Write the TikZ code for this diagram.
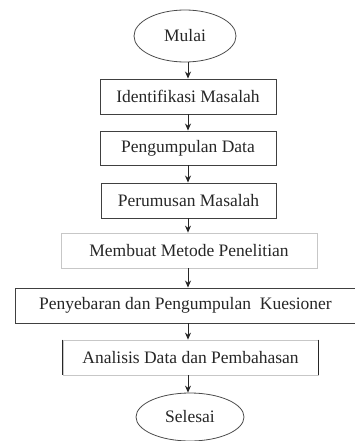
\documentclass[tikz,border=0pt]{standalone}
\usepackage{fontspec}
\setmainfont{Liberation Serif}
\usetikzlibrary{arrows.meta,shapes.geometric}
\begin{document}
\begin{tikzpicture}[x=1pt,y=-1pt,
  txt/.style={font=\fontsize{17.5}{19}\selectfont, text=black!85},
  term/.style={ellipse, draw=black!70, line width=0.8pt, inner sep=0pt, txt},
  procbox/.style={rectangle, draw=black!75, line width=0.9pt, inner sep=0pt, txt},
  lightbox/.style={rectangle, draw=black!22, line width=0.8pt, inner sep=0pt, txt},
  arr/.style={draw=black!85, line width=0.8pt, -{Stealth[length=7pt,width=6pt]}}]
\useasboundingbox (0,0) rectangle (355,441);
\coordinate (ax) at (188,0);
\node[term, minimum width=102pt, minimum height=52pt] (m) at (185,36) {Mulai};
\node[procbox, minimum width=176pt, minimum height=35pt] (b1) at (188,96.5) {Identifikasi Masalah};
\node[procbox, minimum width=176pt, minimum height=34pt] (b2) at (188,148) {Pengumpulan Data};
\node[procbox, minimum width=175pt, minimum height=35pt] (b3) at (188.5,200.5) {Perumusan Masalah};
\node[lightbox, minimum width=256pt, minimum height=35pt] (b4) at (189,250.5) {Membuat Metode Penelitian};
\node[procbox, minimum width=341pt, minimum height=35pt] (b5) at (185.5,305.5) {Penyebaran dan Pengumpulan\ \ Kuesioner};
\node[lightbox, minimum width=255pt, minimum height=35pt] (b6) at (190.5,357.5) {Analisis Data dan Pembahasan};
\draw[black!85, line width=1.2pt] (b6.north west) -- (b6.south west) (b6.north east) -- (b6.south east);
\node[term, minimum width=108pt, minimum height=48pt] (s) at (190,417) {Selesai};
\draw[arr] (m.south -| ax) -- (b1.north -| ax);
\draw[arr] (b1.south -| ax) -- (b2.north -| ax);
\draw[arr] (b2.south -| ax) -- (b3.north -| ax);
\draw[arr] (b3.south -| ax) -- (b4.north -| ax);
\draw[arr] (b4.south -| ax) -- (b5.north -| ax);
\draw[arr] (b5.south -| ax) -- (b6.north -| ax);
\draw[arr] (b6.south -| ax) -- (s.north -| ax);
\end{tikzpicture}
\end{document}
